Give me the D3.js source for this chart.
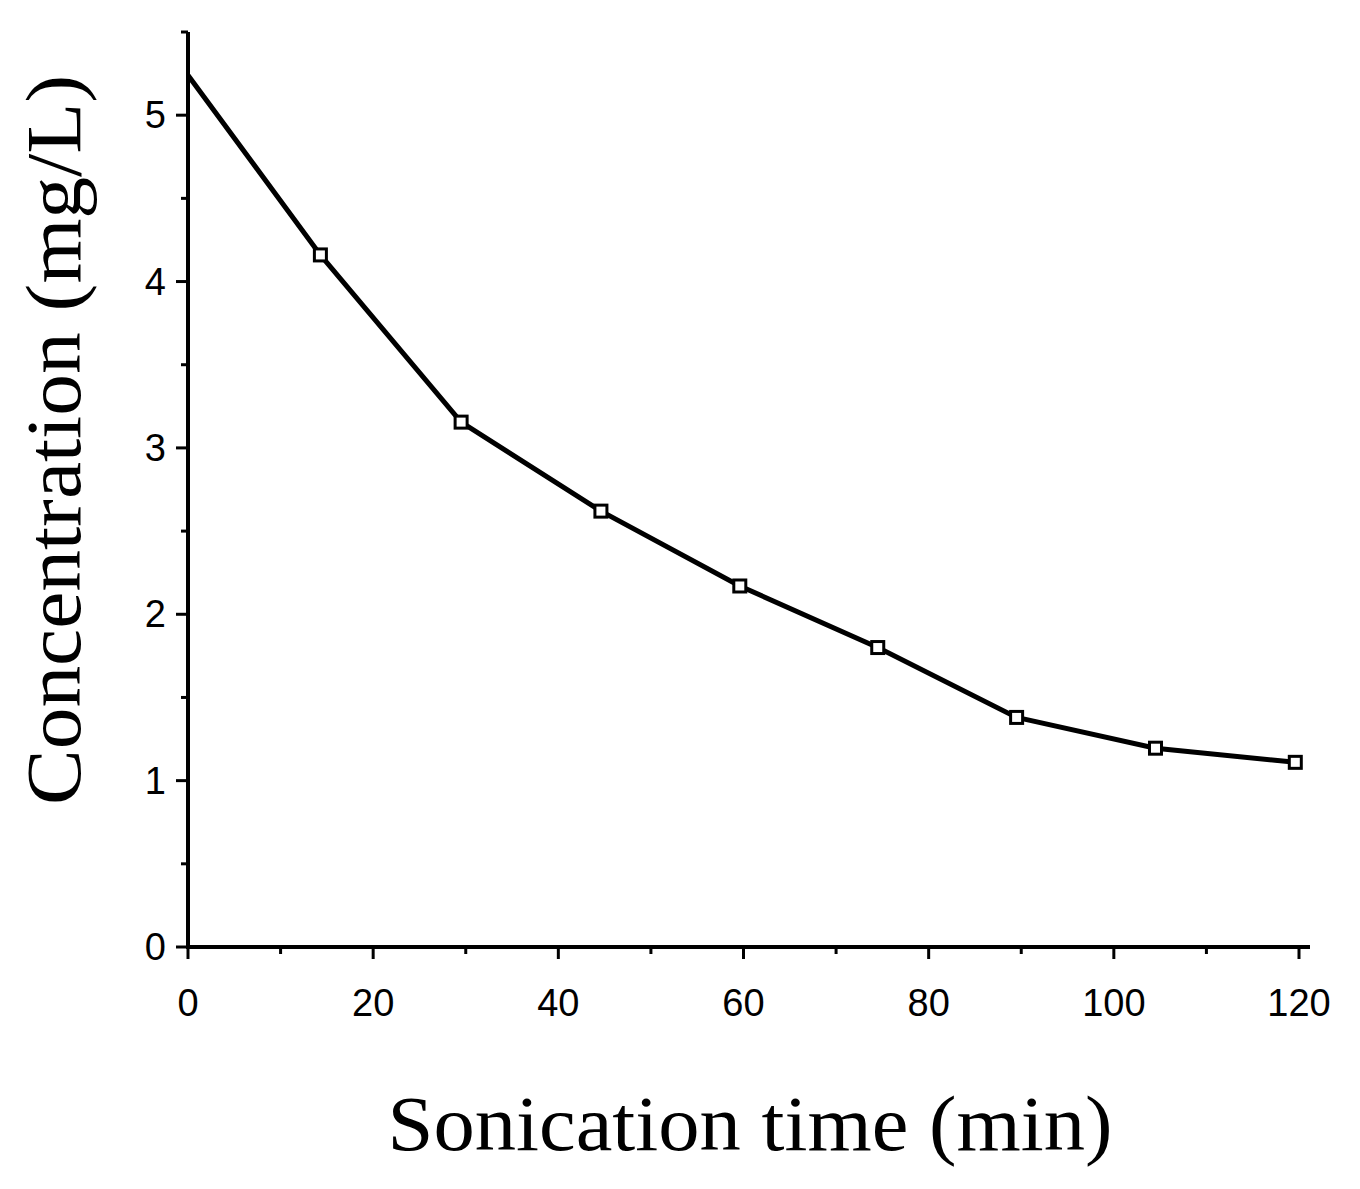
<!DOCTYPE html><html><head><meta charset="utf-8">
<script src="https://cdn.jsdelivr.net/npm/d3@7"></script>
<style>body{margin:0;background:#fff}</style></head><body>
<svg id="c" width="1360" height="1189"></svg>
<script>
const times=[0,14.3,29.5,44.6,59.6,74.5,89.5,104.5,119.6];
const conc=[5.24,4.16,3.155,2.62,2.17,1.80,1.38,1.195,1.11];
const xTicks=[0,20,40,60,80,100,120];
const yTicks=[0,1,2,3,4,5];
const svg=d3.select("#c");
const x=d3.scaleLinear().domain([0,120]).range([188,1299]);
const y=d3.scaleLinear().domain([0,5.5]).range([947,32]);
const g=svg.append("g");
// axes lines
g.append("line").attr("x1",188).attr("x2",188).attr("y1",y(5.5)).attr("y2",949).attr("stroke","#000").attr("stroke-width",4);
g.append("line").attr("x1",186).attr("x2",1310).attr("y1",947).attr("y2",947).attr("stroke","#000").attr("stroke-width",4);
// x ticks
d3.range(0,121,10).forEach(v=>{const major=v%20===0;
 g.append("line").attr("x1",x(v)).attr("x2",x(v)).attr("y1",947).attr("y2",947+(major?12:7)).attr("stroke","#000").attr("stroke-width",3);});
xTicks.forEach(v=>g.append("text").attr("x",x(v)).attr("y",1016).attr("text-anchor","middle").attr("font-family","Liberation Sans, Arial").attr("font-size",38).text(v));
d3.range(0,5.51,0.5).forEach(v=>{const major=Math.abs(v-Math.round(v))<1e-6;
 g.append("line").attr("x1",188).attr("x2",188-(major?12:7)).attr("y1",y(v)).attr("y2",y(v)).attr("stroke","#000").attr("stroke-width",3);});
yTicks.forEach(v=>g.append("text").attr("x",166).attr("y",y(v)+13).attr("text-anchor","end").attr("font-family","Liberation Sans, Arial").attr("font-size",38).text(v));
// line
g.append("path").datum(times.map((t,i)=>[t,conc[i]])).attr("d",d3.line().x(d=>x(d[0])).y(d=>y(d[1]))).attr("fill","none").attr("stroke","#000").attr("stroke-width",5);
g.selectAll("rect.m").data(times.slice(1).map((t,i)=>[t,conc[i+1]])).enter().append("rect")
 .attr("x",d=>x(d[0])-6).attr("y",d=>y(d[1])-6).attr("width",12).attr("height",12).attr("fill","#fff").attr("stroke","#000").attr("stroke-width",3);
// titles
svg.append("text").attr("x",750).attr("y",1150).attr("text-anchor","middle").attr("font-family","Liberation Serif, Times New Roman").attr("font-size",78).attr("textLength",725).attr("lengthAdjust","spacingAndGlyphs").text("Sonication time (min)");
svg.append("text").attr("transform","translate(80,440) rotate(-90)").attr("text-anchor","middle").attr("font-family","Liberation Serif, Times New Roman").attr("font-size",78).attr("textLength",730).attr("lengthAdjust","spacingAndGlyphs").text("Concentration (mg/L)");
</script></body></html>
